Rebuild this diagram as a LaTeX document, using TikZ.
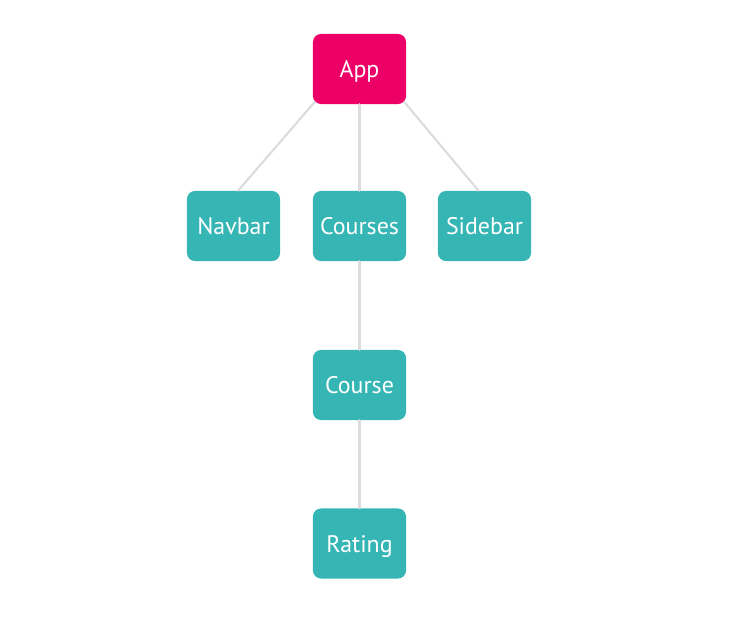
\documentclass[tikz,border=0pt]{standalone}
\usepackage{fontspec}
\setmainfont{PT Sans}
\usetikzlibrary{positioning}
\definecolor{apppink}{HTML}{EC0068}
\definecolor{compteal}{HTML}{36B5B5}
\definecolor{linkgray}{HTML}{DCDCDC}

\begin{document}
\begin{tikzpicture}[
  x=0.025cm, y=0.025cm,
  line cap=round, line join=round,
  comp/.style = {fill=compteal, draw=none, rounded corners=0.2cm,
                 minimum width=2.325cm, minimum height=1.75cm, inner sep=0pt,
                 text height=12.5pt, text depth=0pt,
                 anchor=center, text=white, font=\fontsize{17}{20}\selectfont},
  root/.style = {comp, fill=apppink},
  link/.style = {draw=linkgray, line width=1.5pt}
]
\useasboundingbox (0,0) rectangle (730,-628);

% 节点：根 y=-69，第二层 y=-226，下面两层
\node[root] (app)     at (359.5,-69)   {App};
\node[comp] (navbar)  at (233.5,-226)  {Navbar};
\node[comp] (courses) at (359.5,-226)  {Courses};
\node[comp] (sidebar) at (484.5,-226)  {Sidebar};
\node[comp] (course)  at (359.5,-385)  {Course};
\node[comp] (rating)  at (359.5,-543.5){Rating};

% App -> 子组件
\draw[link] ([shift={(2,2.3)}]app.south west) -- ([shift={(4.6,0)}]navbar.north);
\draw[link] (app.south) -- (courses.north);
\draw[link] ([shift={(-2,2.3)}]app.south east) -- ([shift={(-6,0)}]sidebar.north);
% Courses -> Course -> Rating
\draw[link] (courses.south) -- (course.north);
\draw[link] (course.south) -- (rating.north);

\end{tikzpicture}
\end{document}
